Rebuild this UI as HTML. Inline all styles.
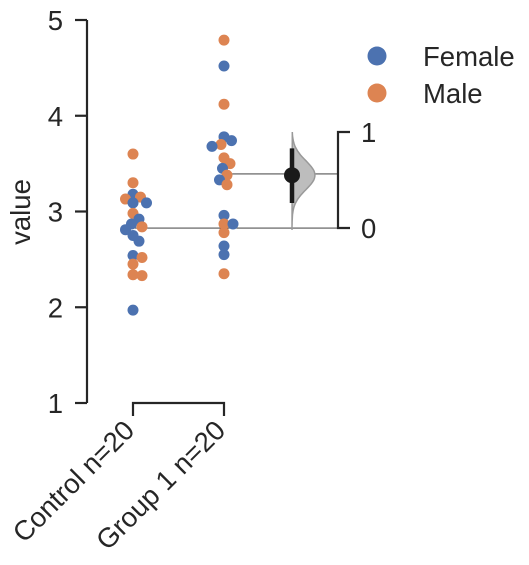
<!DOCTYPE html>
<html><head><meta charset="utf-8"><style>
html,body{margin:0;padding:0;background:#fff;}
svg{display:block;font-family:"Liberation Sans",sans-serif;}
</style></head><body>
<svg id="c" width="529" height="565">
<g id="axes" stroke="#262626" stroke-width="2.2" fill="none"></g>
<g id="marks"></g>
<g id="labels" fill="#262626" font-size="27.5"></g>
</svg>
<script>
const groups = ["Control n=20", "Group 1 n=20"];
const controlValues = [3.60,3.30,3.15,3.18,3.09,3.09,3.13,2.98,2.92,2.84,2.87,2.81,2.75,2.69,2.52,2.54,2.45,2.34,2.33,1.97];
const controlSex = ["M","M","M","F","F","F","M","M","F","M","F","F","F","F","M","F","M","M","M","F"];
const group1Values = [4.79,4.52,4.12,3.78,3.74,3.70,3.68,3.56,3.45,3.50,3.33,3.38,3.28,2.96,2.87,2.87,2.78,2.64,2.55,2.35];
const group1Sex = ["M","F","M","F","F","M","F","M","F","M","F","M","M","F","M","F","M","F","F","M"];
const yTicks = [1,2,3,4,5];
const deltaTicks = [0,1];
const deltaMean = 0.55, ciLow = 0.26, ciHigh = 0.83;

const NS="http://www.w3.org/2000/svg";
function mk(t,a,p){const e=document.createElementNS(NS,t);for(const k in a)e.setAttribute(k,a[k]);p.appendChild(e);return e;}
const y = v => 403 - (v-1)*95.75;
const xg = i => 133 + i*91;
const mean = a => a.reduce((s,v)=>s+v,0)/a.length;
const m0 = mean(controlValues), m1 = mean(group1Values);
const yd = d => y(m0) - d*96;
const axes=document.getElementById('axes'), marks=document.getElementById('marks'), labels=document.getElementById('labels');
const colors={F:"#4c72b0",M:"#dd8452"};

let e=mk('line',{x1:87,y1:y(5),x2:87,y2:y(1)},axes);


yTicks.forEach(t=>{
  let l=mk('line',{x1:75,y1:y(t),x2:87,y2:y(t)},axes);
  
  
  let tx=mk('text',{x:63,y:y(t)+10,'text-anchor':'end'},labels);tx.textContent=t;
  
  
});
let yl=mk('text',{x:0,y:0,'text-anchor':'middle',transform:'translate(30,212) rotate(-90)'},labels);yl.textContent='value';


let xb=mk('path',{d:`M${xg(0)},416V403H${xg(1)}V416`},axes);


groups.forEach((g,i)=>{
  let tx=mk('text',{x:0,y:0,'text-anchor':'end',transform:`translate(${xg(i)+3},432) rotate(-45)`},labels);tx.textContent=g;
  
  
});
let ml0=mk('line',{x1:xg(0),y1:y(m0),x2:338,y2:y(m0),stroke:'#262626','stroke-width':0.9},marks);


let ml1=mk('line',{x1:xg(1),y1:y(m1),x2:338,y2:y(m1),stroke:'#262626','stroke-width':0.9},marks);


function swarm(vals,sex,gi){
  const r=5.5,d=8,placed=[];
  const order=vals.map((v,i)=>i).sort((a,b)=>vals[b]-vals[a]);
  order.forEach(i=>{
    const py=y(vals[i]);let px=xg(gi);
    for(let k=0;k<40;k++){
      const off=(k%2?1:-1)*Math.ceil(k/2)*1.5;const cx=xg(gi)+off;
      if(placed.every(p=>(p[0]-cx)**2+(p[1]-py)**2>=d*d)){px=cx;break;}
    }
    placed.push([px,py]);
    let c=mk('circle',{cx:px,cy:py,r:r,fill:colors[sex[i]]},marks);
    
    
  });
}
swarm(controlValues,controlSex,0);
swarm(group1Values,group1Sex,1);
let da=mk('path',{d:`M350,${yd(1)}H338V${yd(0)}H350`},axes);


deltaTicks.forEach(t=>{
  let tx=mk('text',{x:361,y:yd(t)+10},labels);tx.textContent=t;
  
  
});
const vx=292;let pts=[];
for(let d=-0.02;d<=1.02;d+=0.02){const z=(d-deltaMean)/0.15;pts.push([vx+23*Math.exp(-z*z/2),yd(d)]);}
let vd=`M${vx},${yd(-0.02)}`+pts.map(p=>`L${p[0].toFixed(1)},${p[1].toFixed(1)}`).join('')+'Z';
let vi=mk('path',{d:vd,fill:'#bdbdbd',stroke:'#999','stroke-width':1.5},marks);


let ci=mk('line',{x1:vx,y1:yd(ciLow),x2:vx,y2:yd(ciHigh),stroke:'#1a1a1a','stroke-width':4.5},marks);


let dm=mk('circle',{cx:vx,cy:yd(deltaMean),r:8,fill:'#1a1a1a'},marks);


[["Female","F",56],["Male","M",93]].forEach(([n,k,ly])=>{
  let c=mk('circle',{cx:377,cy:ly,r:9.5,fill:colors[k]},marks);
  
  
  let tx=mk('text',{x:423,y:ly+10},labels);tx.textContent=n;
  
  
});
</script>
</body></html>
